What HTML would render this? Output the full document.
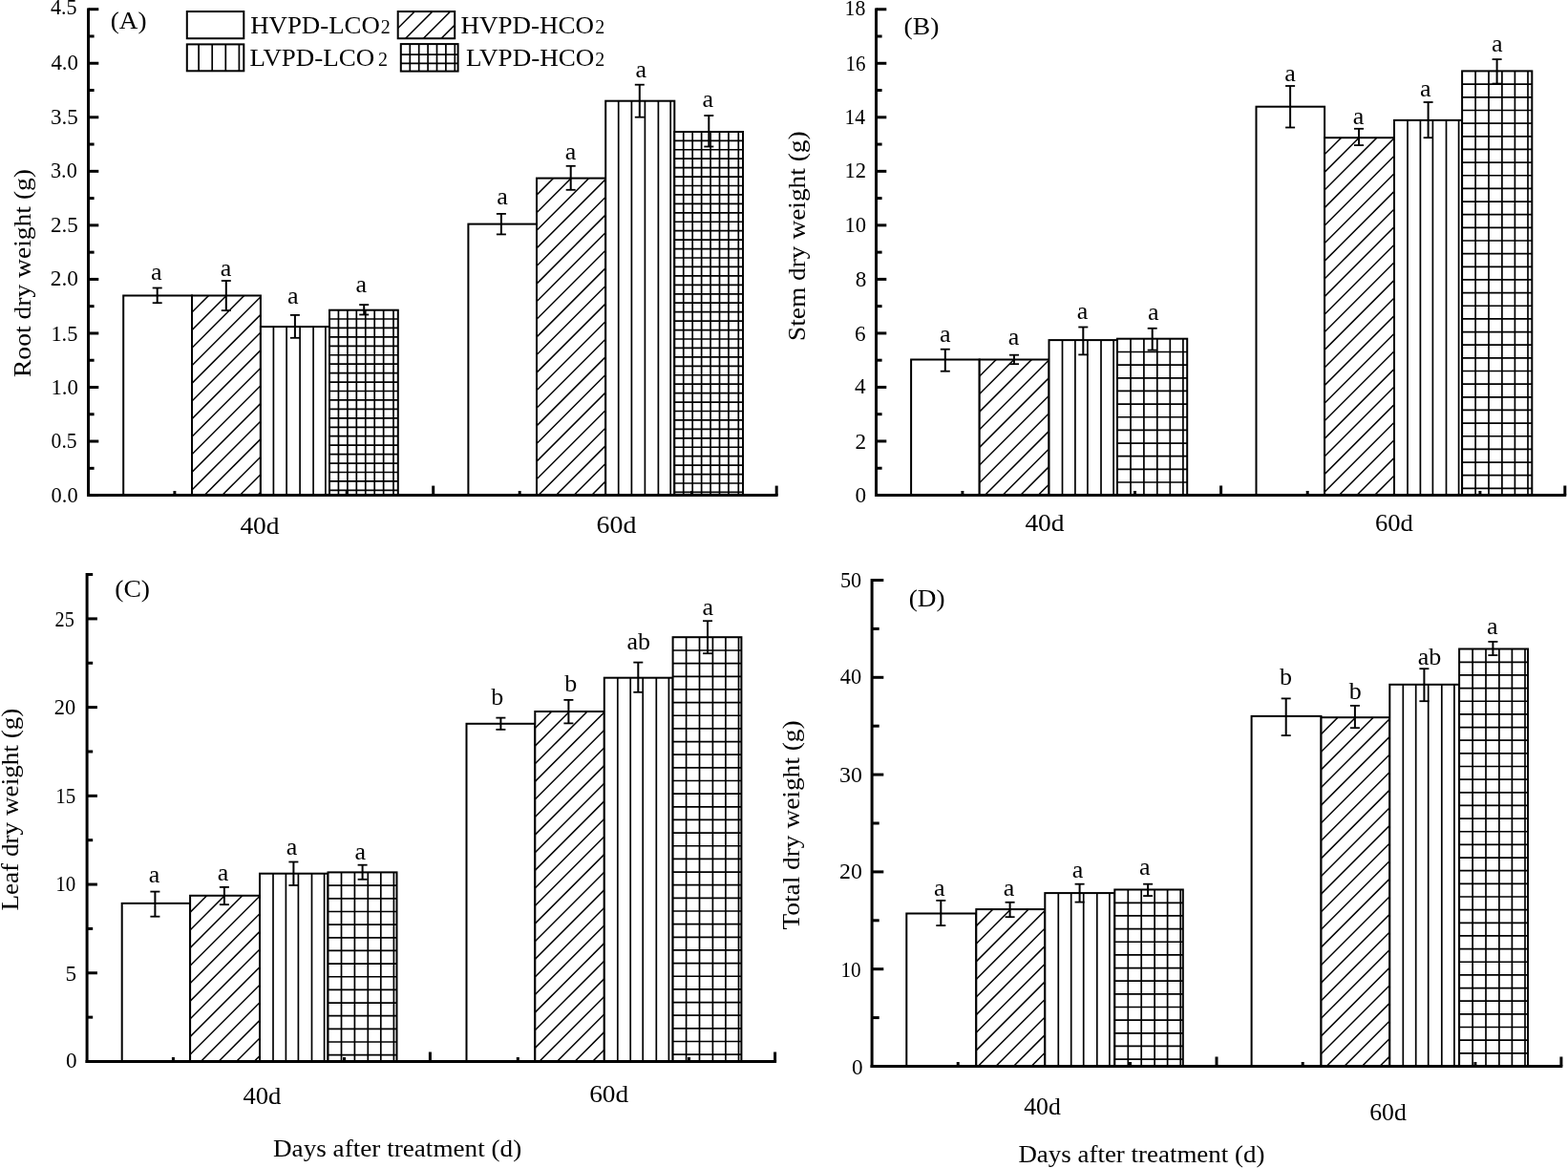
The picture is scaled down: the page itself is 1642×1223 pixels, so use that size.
<!DOCTYPE html>
<html><head><meta charset="utf-8"><title>Dry weight figure</title>
<style>
html,body{margin:0;padding:0;background:#fff;}
body{width:1642px;height:1223px;overflow:hidden;}
svg{display:block;}
text{font-family:'Liberation Serif','Times New Roman',serif;fill:#000;}
</style></head>
<body>
<svg width="1642" height="1223" viewBox="0 0 1642 1223">
<rect width="1642" height="1223" fill="#fff"/>
<rect x="129.2" y="309.5" width="71.8" height="209.1" fill="#fff"/>
<rect x="129.2" y="309.5" width="71.8" height="209.1" fill="none" stroke="#000" stroke-width="2"/>
<rect x="201" y="309.5" width="71.9" height="209.1" fill="#fff"/>
<clipPath id="c1"><rect x="201" y="309.5" width="71.9" height="209.1"/></clipPath>
<g clip-path="url(#c1)" stroke="#000" stroke-width="1.5">
<line x1="7.4" y1="520.6" x2="220.5" y2="307.5"/>
<line x1="26" y1="520.6" x2="239.1" y2="307.5"/>
<line x1="44.6" y1="520.6" x2="257.7" y2="307.5"/>
<line x1="63.2" y1="520.6" x2="276.3" y2="307.5"/>
<line x1="81.8" y1="520.6" x2="294.9" y2="307.5"/>
<line x1="100.4" y1="520.6" x2="313.5" y2="307.5"/>
<line x1="119" y1="520.6" x2="332.1" y2="307.5"/>
<line x1="137.6" y1="520.6" x2="350.7" y2="307.5"/>
<line x1="156.2" y1="520.6" x2="369.3" y2="307.5"/>
<line x1="174.8" y1="520.6" x2="387.9" y2="307.5"/>
<line x1="193.4" y1="520.6" x2="406.5" y2="307.5"/>
<line x1="212" y1="520.6" x2="425.1" y2="307.5"/>
<line x1="230.6" y1="520.6" x2="443.7" y2="307.5"/>
<line x1="249.2" y1="520.6" x2="462.3" y2="307.5"/>
<line x1="267.8" y1="520.6" x2="480.9" y2="307.5"/>
</g>
<rect x="201" y="309.5" width="71.9" height="209.1" fill="none" stroke="#000" stroke-width="2"/>
<rect x="272.9" y="342.1" width="72.1" height="176.5" fill="#fff"/>
<g stroke="#000" stroke-width="1.7">
<line x1="286.4" y1="342.1" x2="286.4" y2="518.6"/>
<line x1="300.1" y1="342.1" x2="300.1" y2="518.6"/>
<line x1="314.1" y1="342.1" x2="314.1" y2="518.6"/>
<line x1="328.1" y1="342.1" x2="328.1" y2="518.6"/>
<line x1="340.9" y1="342.1" x2="340.9" y2="518.6"/>
</g>
<rect x="272.9" y="342.1" width="72.1" height="176.5" fill="none" stroke="#000" stroke-width="2"/>
<rect x="345" y="324.7" width="71.8" height="193.9" fill="#fff"/>
<g stroke="#000" stroke-width="1.7">
<line x1="354.44" y1="324.7" x2="354.44" y2="518.6"/>
<line x1="363.88" y1="324.7" x2="363.88" y2="518.6"/>
<line x1="373.32" y1="324.7" x2="373.32" y2="518.6"/>
<line x1="382.76" y1="324.7" x2="382.76" y2="518.6"/>
<line x1="392.2" y1="324.7" x2="392.2" y2="518.6"/>
<line x1="401.64" y1="324.7" x2="401.64" y2="518.6"/>
<line x1="412" y1="324.7" x2="412" y2="518.6"/>
<line x1="345" y1="334" x2="416.8" y2="334"/>
<line x1="345" y1="343.44" x2="416.8" y2="343.44"/>
<line x1="345" y1="352.88" x2="416.8" y2="352.88"/>
<line x1="345" y1="362.32" x2="416.8" y2="362.32"/>
<line x1="345" y1="371.76" x2="416.8" y2="371.76"/>
<line x1="345" y1="381.2" x2="416.8" y2="381.2"/>
<line x1="345" y1="390.64" x2="416.8" y2="390.64"/>
<line x1="345" y1="400.08" x2="416.8" y2="400.08"/>
<line x1="345" y1="409.52" x2="416.8" y2="409.52"/>
<line x1="345" y1="418.96" x2="416.8" y2="418.96"/>
<line x1="345" y1="428.4" x2="416.8" y2="428.4"/>
<line x1="345" y1="437.84" x2="416.8" y2="437.84"/>
<line x1="345" y1="447.28" x2="416.8" y2="447.28"/>
<line x1="345" y1="456.72" x2="416.8" y2="456.72"/>
<line x1="345" y1="466.16" x2="416.8" y2="466.16"/>
<line x1="345" y1="475.6" x2="416.8" y2="475.6"/>
<line x1="345" y1="485.04" x2="416.8" y2="485.04"/>
<line x1="345" y1="494.48" x2="416.8" y2="494.48"/>
<line x1="345" y1="503.92" x2="416.8" y2="503.92"/>
<line x1="345" y1="513.36" x2="416.8" y2="513.36"/>
</g>
<rect x="345" y="324.7" width="71.8" height="193.9" fill="none" stroke="#000" stroke-width="2"/>
<rect x="490.4" y="234.6" width="71.6" height="284" fill="#fff"/>
<rect x="490.4" y="234.6" width="71.6" height="284" fill="none" stroke="#000" stroke-width="2"/>
<rect x="562" y="186.6" width="72.2" height="332" fill="#fff"/>
<clipPath id="c2"><rect x="562" y="186.6" width="72.2" height="332"/></clipPath>
<g clip-path="url(#c2)" stroke="#000" stroke-width="1.5">
<line x1="245.5" y1="520.6" x2="581.5" y2="184.6"/>
<line x1="264.1" y1="520.6" x2="600.1" y2="184.6"/>
<line x1="282.7" y1="520.6" x2="618.7" y2="184.6"/>
<line x1="301.3" y1="520.6" x2="637.3" y2="184.6"/>
<line x1="319.9" y1="520.6" x2="655.9" y2="184.6"/>
<line x1="338.5" y1="520.6" x2="674.5" y2="184.6"/>
<line x1="357.1" y1="520.6" x2="693.1" y2="184.6"/>
<line x1="375.7" y1="520.6" x2="711.7" y2="184.6"/>
<line x1="394.3" y1="520.6" x2="730.3" y2="184.6"/>
<line x1="412.9" y1="520.6" x2="748.9" y2="184.6"/>
<line x1="431.5" y1="520.6" x2="767.5" y2="184.6"/>
<line x1="450.1" y1="520.6" x2="786.1" y2="184.6"/>
<line x1="468.7" y1="520.6" x2="804.7" y2="184.6"/>
<line x1="487.3" y1="520.6" x2="823.3" y2="184.6"/>
<line x1="505.9" y1="520.6" x2="841.9" y2="184.6"/>
<line x1="524.5" y1="520.6" x2="860.5" y2="184.6"/>
<line x1="543.1" y1="520.6" x2="879.1" y2="184.6"/>
<line x1="561.7" y1="520.6" x2="897.7" y2="184.6"/>
<line x1="580.3" y1="520.6" x2="916.3" y2="184.6"/>
<line x1="598.9" y1="520.6" x2="934.9" y2="184.6"/>
<line x1="617.5" y1="520.6" x2="953.5" y2="184.6"/>
</g>
<rect x="562" y="186.6" width="72.2" height="332" fill="none" stroke="#000" stroke-width="2"/>
<rect x="634.2" y="105.7" width="72.1" height="412.9" fill="#fff"/>
<g stroke="#000" stroke-width="1.7">
<line x1="647.7" y1="105.7" x2="647.7" y2="518.6"/>
<line x1="661.4" y1="105.7" x2="661.4" y2="518.6"/>
<line x1="675.4" y1="105.7" x2="675.4" y2="518.6"/>
<line x1="689.4" y1="105.7" x2="689.4" y2="518.6"/>
<line x1="702.2" y1="105.7" x2="702.2" y2="518.6"/>
</g>
<rect x="634.2" y="105.7" width="72.1" height="412.9" fill="none" stroke="#000" stroke-width="2"/>
<rect x="706.3" y="138" width="71.7" height="380.6" fill="#fff"/>
<g stroke="#000" stroke-width="1.7">
<line x1="715.74" y1="138" x2="715.74" y2="518.6"/>
<line x1="725.18" y1="138" x2="725.18" y2="518.6"/>
<line x1="734.62" y1="138" x2="734.62" y2="518.6"/>
<line x1="744.06" y1="138" x2="744.06" y2="518.6"/>
<line x1="753.5" y1="138" x2="753.5" y2="518.6"/>
<line x1="762.94" y1="138" x2="762.94" y2="518.6"/>
<line x1="773.3" y1="138" x2="773.3" y2="518.6"/>
<line x1="706.3" y1="147.3" x2="778" y2="147.3"/>
<line x1="706.3" y1="156.74" x2="778" y2="156.74"/>
<line x1="706.3" y1="166.18" x2="778" y2="166.18"/>
<line x1="706.3" y1="175.62" x2="778" y2="175.62"/>
<line x1="706.3" y1="185.06" x2="778" y2="185.06"/>
<line x1="706.3" y1="194.5" x2="778" y2="194.5"/>
<line x1="706.3" y1="203.94" x2="778" y2="203.94"/>
<line x1="706.3" y1="213.38" x2="778" y2="213.38"/>
<line x1="706.3" y1="222.82" x2="778" y2="222.82"/>
<line x1="706.3" y1="232.26" x2="778" y2="232.26"/>
<line x1="706.3" y1="241.7" x2="778" y2="241.7"/>
<line x1="706.3" y1="251.14" x2="778" y2="251.14"/>
<line x1="706.3" y1="260.58" x2="778" y2="260.58"/>
<line x1="706.3" y1="270.02" x2="778" y2="270.02"/>
<line x1="706.3" y1="279.46" x2="778" y2="279.46"/>
<line x1="706.3" y1="288.9" x2="778" y2="288.9"/>
<line x1="706.3" y1="298.34" x2="778" y2="298.34"/>
<line x1="706.3" y1="307.78" x2="778" y2="307.78"/>
<line x1="706.3" y1="317.22" x2="778" y2="317.22"/>
<line x1="706.3" y1="326.66" x2="778" y2="326.66"/>
<line x1="706.3" y1="336.1" x2="778" y2="336.1"/>
<line x1="706.3" y1="345.54" x2="778" y2="345.54"/>
<line x1="706.3" y1="354.98" x2="778" y2="354.98"/>
<line x1="706.3" y1="364.42" x2="778" y2="364.42"/>
<line x1="706.3" y1="373.86" x2="778" y2="373.86"/>
<line x1="706.3" y1="383.3" x2="778" y2="383.3"/>
<line x1="706.3" y1="392.74" x2="778" y2="392.74"/>
<line x1="706.3" y1="402.18" x2="778" y2="402.18"/>
<line x1="706.3" y1="411.62" x2="778" y2="411.62"/>
<line x1="706.3" y1="421.06" x2="778" y2="421.06"/>
<line x1="706.3" y1="430.5" x2="778" y2="430.5"/>
<line x1="706.3" y1="439.94" x2="778" y2="439.94"/>
<line x1="706.3" y1="449.38" x2="778" y2="449.38"/>
<line x1="706.3" y1="458.82" x2="778" y2="458.82"/>
<line x1="706.3" y1="468.26" x2="778" y2="468.26"/>
<line x1="706.3" y1="477.7" x2="778" y2="477.7"/>
<line x1="706.3" y1="487.14" x2="778" y2="487.14"/>
<line x1="706.3" y1="496.58" x2="778" y2="496.58"/>
<line x1="706.3" y1="506.02" x2="778" y2="506.02"/>
<line x1="706.3" y1="515.46" x2="778" y2="515.46"/>
</g>
<rect x="706.3" y="138" width="71.7" height="380.6" fill="none" stroke="#000" stroke-width="2"/>
<g stroke="#000" stroke-width="1.8"><line x1="164.7" y1="301.5" x2="164.7" y2="317.2" stroke-width="2.0"/><line x1="159.7" y1="301.5" x2="169.7" y2="301.5"/><line x1="159.7" y1="317.2" x2="169.7" y2="317.2"/></g>
<g stroke="#000" stroke-width="1.8"><line x1="236.8" y1="294" x2="236.8" y2="325.1" stroke-width="2.0"/><line x1="231.8" y1="294" x2="241.8" y2="294"/><line x1="231.8" y1="325.1" x2="241.8" y2="325.1"/></g>
<g stroke="#000" stroke-width="1.8"><line x1="308.9" y1="329.9" x2="308.9" y2="353.8" stroke-width="2.0"/><line x1="303.9" y1="329.9" x2="313.9" y2="329.9"/><line x1="303.9" y1="353.8" x2="313.9" y2="353.8"/></g>
<g stroke="#000" stroke-width="1.8"><line x1="381.2" y1="319.1" x2="381.2" y2="329.5" stroke-width="2.0"/><line x1="376.2" y1="319.1" x2="386.2" y2="319.1"/><line x1="376.2" y1="329.5" x2="386.2" y2="329.5"/></g>
<g stroke="#000" stroke-width="1.8"><line x1="524.9" y1="223.9" x2="524.9" y2="245.4" stroke-width="2.0"/><line x1="519.9" y1="223.9" x2="529.9" y2="223.9"/><line x1="519.9" y1="245.4" x2="529.9" y2="245.4"/></g>
<g stroke="#000" stroke-width="1.8"><line x1="597.7" y1="173.8" x2="597.7" y2="198.8" stroke-width="2.0"/><line x1="592.7" y1="173.8" x2="602.7" y2="173.8"/><line x1="592.7" y1="198.8" x2="602.7" y2="198.8"/></g>
<g stroke="#000" stroke-width="1.8"><line x1="669.8" y1="88.7" x2="669.8" y2="122.7" stroke-width="2.0"/><line x1="664.8" y1="88.7" x2="674.8" y2="88.7"/><line x1="664.8" y1="122.7" x2="674.8" y2="122.7"/></g>
<g stroke="#000" stroke-width="1.8"><line x1="742.3" y1="121" x2="742.3" y2="153.5" stroke-width="2.0"/><line x1="737.3" y1="121" x2="747.3" y2="121"/><line x1="737.3" y1="153.5" x2="747.3" y2="153.5"/></g>
<line x1="92.5" y1="8.4" x2="92.5" y2="520.1" stroke="#000" stroke-width="3"/>
<line x1="91" y1="518.6" x2="814.6" y2="518.6" stroke="#000" stroke-width="3"/>
<line x1="92.5" y1="518.6" x2="103.3" y2="518.6" stroke="#000" stroke-width="3"/>
<line x1="92.5" y1="490.33" x2="98.6" y2="490.33" stroke="#000" stroke-width="3"/>
<line x1="92.5" y1="462.06" x2="103.3" y2="462.06" stroke="#000" stroke-width="3"/>
<line x1="92.5" y1="433.78" x2="98.6" y2="433.78" stroke="#000" stroke-width="3"/>
<line x1="92.5" y1="405.51" x2="103.3" y2="405.51" stroke="#000" stroke-width="3"/>
<line x1="92.5" y1="377.24" x2="98.6" y2="377.24" stroke="#000" stroke-width="3"/>
<line x1="92.5" y1="348.97" x2="103.3" y2="348.97" stroke="#000" stroke-width="3"/>
<line x1="92.5" y1="320.69" x2="98.6" y2="320.69" stroke="#000" stroke-width="3"/>
<line x1="92.5" y1="292.42" x2="103.3" y2="292.42" stroke="#000" stroke-width="3"/>
<line x1="92.5" y1="264.15" x2="98.6" y2="264.15" stroke="#000" stroke-width="3"/>
<line x1="92.5" y1="235.88" x2="103.3" y2="235.88" stroke="#000" stroke-width="3"/>
<line x1="92.5" y1="207.61" x2="98.6" y2="207.61" stroke="#000" stroke-width="3"/>
<line x1="92.5" y1="179.33" x2="103.3" y2="179.33" stroke="#000" stroke-width="3"/>
<line x1="92.5" y1="151.06" x2="98.6" y2="151.06" stroke="#000" stroke-width="3"/>
<line x1="92.5" y1="122.79" x2="103.3" y2="122.79" stroke="#000" stroke-width="3"/>
<line x1="92.5" y1="94.52" x2="98.6" y2="94.52" stroke="#000" stroke-width="3"/>
<line x1="92.5" y1="66.24" x2="103.3" y2="66.24" stroke="#000" stroke-width="3"/>
<line x1="92.5" y1="37.97" x2="98.6" y2="37.97" stroke="#000" stroke-width="3"/>
<line x1="92.5" y1="9.7" x2="103.3" y2="9.7" stroke="#000" stroke-width="3"/>
<line x1="182.9" y1="518.6" x2="182.9" y2="514.1" stroke="#000" stroke-width="3"/>
<line x1="363.2" y1="518.6" x2="363.2" y2="514.1" stroke="#000" stroke-width="3"/>
<line x1="453.7" y1="518.6" x2="453.7" y2="508.6" stroke="#000" stroke-width="3"/>
<line x1="544.2" y1="518.6" x2="544.2" y2="514.1" stroke="#000" stroke-width="3"/>
<line x1="724.5" y1="518.6" x2="724.5" y2="514.1" stroke="#000" stroke-width="3"/>
<line x1="813.2" y1="518.6" x2="813.2" y2="508.6" stroke="#000" stroke-width="3"/>
<rect x="954.1" y="376.5" width="71.6" height="142" fill="#fff"/>
<rect x="954.1" y="376.5" width="71.6" height="142" fill="none" stroke="#000" stroke-width="2"/>
<rect x="1025.7" y="376.5" width="72.8" height="142" fill="#fff"/>
<clipPath id="c3"><rect x="1025.7" y="376.5" width="72.8" height="142"/></clipPath>
<g clip-path="url(#c3)" stroke="#000" stroke-width="1.5">
<line x1="899.2" y1="520.5" x2="1045.2" y2="374.5"/>
<line x1="917.8" y1="520.5" x2="1063.8" y2="374.5"/>
<line x1="936.4" y1="520.5" x2="1082.4" y2="374.5"/>
<line x1="955" y1="520.5" x2="1101" y2="374.5"/>
<line x1="973.6" y1="520.5" x2="1119.6" y2="374.5"/>
<line x1="992.2" y1="520.5" x2="1138.2" y2="374.5"/>
<line x1="1010.8" y1="520.5" x2="1156.8" y2="374.5"/>
<line x1="1029.4" y1="520.5" x2="1175.4" y2="374.5"/>
<line x1="1048" y1="520.5" x2="1194" y2="374.5"/>
<line x1="1066.6" y1="520.5" x2="1212.6" y2="374.5"/>
<line x1="1085.2" y1="520.5" x2="1231.2" y2="374.5"/>
</g>
<rect x="1025.7" y="376.5" width="72.8" height="142" fill="none" stroke="#000" stroke-width="2"/>
<rect x="1098.5" y="356.1" width="71.5" height="162.4" fill="#fff"/>
<g stroke="#000" stroke-width="1.7">
<line x1="1112.5" y1="356.1" x2="1112.5" y2="518.5"/>
<line x1="1125.9" y1="356.1" x2="1125.9" y2="518.5"/>
<line x1="1138.9" y1="356.1" x2="1138.9" y2="518.5"/>
<line x1="1153" y1="356.1" x2="1153" y2="518.5"/>
<line x1="1166.1" y1="356.1" x2="1166.1" y2="518.5"/>
</g>
<rect x="1098.5" y="356.1" width="71.5" height="162.4" fill="none" stroke="#000" stroke-width="2"/>
<rect x="1170" y="354.7" width="73.2" height="163.8" fill="#fff"/>
<g stroke="#000" stroke-width="1.7">
<line x1="1184" y1="354.7" x2="1184" y2="518.5"/>
<line x1="1197.9" y1="354.7" x2="1197.9" y2="518.5"/>
<line x1="1211.8" y1="354.7" x2="1211.8" y2="518.5"/>
<line x1="1225.3" y1="354.7" x2="1225.3" y2="518.5"/>
<line x1="1238.9" y1="354.7" x2="1238.9" y2="518.5"/>
<line x1="1170" y1="368.5" x2="1243.2" y2="368.5"/>
<line x1="1170" y1="382.15" x2="1243.2" y2="382.15"/>
<line x1="1170" y1="395.8" x2="1243.2" y2="395.8"/>
<line x1="1170" y1="409.45" x2="1243.2" y2="409.45"/>
<line x1="1170" y1="423.1" x2="1243.2" y2="423.1"/>
<line x1="1170" y1="436.75" x2="1243.2" y2="436.75"/>
<line x1="1170" y1="450.4" x2="1243.2" y2="450.4"/>
<line x1="1170" y1="464.05" x2="1243.2" y2="464.05"/>
<line x1="1170" y1="477.7" x2="1243.2" y2="477.7"/>
<line x1="1170" y1="491.35" x2="1243.2" y2="491.35"/>
<line x1="1170" y1="505" x2="1243.2" y2="505"/>
</g>
<rect x="1170" y="354.7" width="73.2" height="163.8" fill="none" stroke="#000" stroke-width="2"/>
<rect x="1315.5" y="111.7" width="71.6" height="406.8" fill="#fff"/>
<rect x="1315.5" y="111.7" width="71.6" height="406.8" fill="none" stroke="#000" stroke-width="2"/>
<rect x="1387.1" y="144.2" width="72.9" height="374.3" fill="#fff"/>
<clipPath id="c4"><rect x="1387.1" y="144.2" width="72.9" height="374.3"/></clipPath>
<g clip-path="url(#c4)" stroke="#000" stroke-width="1.5">
<line x1="1028.3" y1="520.5" x2="1406.6" y2="142.2"/>
<line x1="1046.9" y1="520.5" x2="1425.2" y2="142.2"/>
<line x1="1065.5" y1="520.5" x2="1443.8" y2="142.2"/>
<line x1="1084.1" y1="520.5" x2="1462.4" y2="142.2"/>
<line x1="1102.7" y1="520.5" x2="1481" y2="142.2"/>
<line x1="1121.3" y1="520.5" x2="1499.6" y2="142.2"/>
<line x1="1139.9" y1="520.5" x2="1518.2" y2="142.2"/>
<line x1="1158.5" y1="520.5" x2="1536.8" y2="142.2"/>
<line x1="1177.1" y1="520.5" x2="1555.4" y2="142.2"/>
<line x1="1195.7" y1="520.5" x2="1574" y2="142.2"/>
<line x1="1214.3" y1="520.5" x2="1592.6" y2="142.2"/>
<line x1="1232.9" y1="520.5" x2="1611.2" y2="142.2"/>
<line x1="1251.5" y1="520.5" x2="1629.8" y2="142.2"/>
<line x1="1270.1" y1="520.5" x2="1648.4" y2="142.2"/>
<line x1="1288.7" y1="520.5" x2="1667" y2="142.2"/>
<line x1="1307.3" y1="520.5" x2="1685.6" y2="142.2"/>
<line x1="1325.9" y1="520.5" x2="1704.2" y2="142.2"/>
<line x1="1344.5" y1="520.5" x2="1722.8" y2="142.2"/>
<line x1="1363.1" y1="520.5" x2="1741.4" y2="142.2"/>
<line x1="1381.7" y1="520.5" x2="1760" y2="142.2"/>
<line x1="1400.3" y1="520.5" x2="1778.6" y2="142.2"/>
<line x1="1418.9" y1="520.5" x2="1797.2" y2="142.2"/>
<line x1="1437.5" y1="520.5" x2="1815.8" y2="142.2"/>
<line x1="1456.1" y1="520.5" x2="1834.4" y2="142.2"/>
</g>
<rect x="1387.1" y="144.2" width="72.9" height="374.3" fill="none" stroke="#000" stroke-width="2"/>
<rect x="1460" y="125.9" width="71.1" height="392.6" fill="#fff"/>
<g stroke="#000" stroke-width="1.7">
<line x1="1474" y1="125.9" x2="1474" y2="518.5"/>
<line x1="1487.4" y1="125.9" x2="1487.4" y2="518.5"/>
<line x1="1500.4" y1="125.9" x2="1500.4" y2="518.5"/>
<line x1="1514.5" y1="125.9" x2="1514.5" y2="518.5"/>
<line x1="1527.6" y1="125.9" x2="1527.6" y2="518.5"/>
</g>
<rect x="1460" y="125.9" width="71.1" height="392.6" fill="none" stroke="#000" stroke-width="2"/>
<rect x="1531.1" y="74.4" width="73.2" height="444.1" fill="#fff"/>
<g stroke="#000" stroke-width="1.7">
<line x1="1545.1" y1="74.4" x2="1545.1" y2="518.5"/>
<line x1="1559" y1="74.4" x2="1559" y2="518.5"/>
<line x1="1572.9" y1="74.4" x2="1572.9" y2="518.5"/>
<line x1="1586.4" y1="74.4" x2="1586.4" y2="518.5"/>
<line x1="1600" y1="74.4" x2="1600" y2="518.5"/>
<line x1="1531.1" y1="88.2" x2="1604.3" y2="88.2"/>
<line x1="1531.1" y1="101.85" x2="1604.3" y2="101.85"/>
<line x1="1531.1" y1="115.5" x2="1604.3" y2="115.5"/>
<line x1="1531.1" y1="129.15" x2="1604.3" y2="129.15"/>
<line x1="1531.1" y1="142.8" x2="1604.3" y2="142.8"/>
<line x1="1531.1" y1="156.45" x2="1604.3" y2="156.45"/>
<line x1="1531.1" y1="170.1" x2="1604.3" y2="170.1"/>
<line x1="1531.1" y1="183.75" x2="1604.3" y2="183.75"/>
<line x1="1531.1" y1="197.4" x2="1604.3" y2="197.4"/>
<line x1="1531.1" y1="211.05" x2="1604.3" y2="211.05"/>
<line x1="1531.1" y1="224.7" x2="1604.3" y2="224.7"/>
<line x1="1531.1" y1="238.35" x2="1604.3" y2="238.35"/>
<line x1="1531.1" y1="252" x2="1604.3" y2="252"/>
<line x1="1531.1" y1="265.65" x2="1604.3" y2="265.65"/>
<line x1="1531.1" y1="279.3" x2="1604.3" y2="279.3"/>
<line x1="1531.1" y1="292.95" x2="1604.3" y2="292.95"/>
<line x1="1531.1" y1="306.6" x2="1604.3" y2="306.6"/>
<line x1="1531.1" y1="320.25" x2="1604.3" y2="320.25"/>
<line x1="1531.1" y1="333.9" x2="1604.3" y2="333.9"/>
<line x1="1531.1" y1="347.55" x2="1604.3" y2="347.55"/>
<line x1="1531.1" y1="361.2" x2="1604.3" y2="361.2"/>
<line x1="1531.1" y1="374.85" x2="1604.3" y2="374.85"/>
<line x1="1531.1" y1="388.5" x2="1604.3" y2="388.5"/>
<line x1="1531.1" y1="402.15" x2="1604.3" y2="402.15"/>
<line x1="1531.1" y1="415.8" x2="1604.3" y2="415.8"/>
<line x1="1531.1" y1="429.45" x2="1604.3" y2="429.45"/>
<line x1="1531.1" y1="443.1" x2="1604.3" y2="443.1"/>
<line x1="1531.1" y1="456.75" x2="1604.3" y2="456.75"/>
<line x1="1531.1" y1="470.4" x2="1604.3" y2="470.4"/>
<line x1="1531.1" y1="484.05" x2="1604.3" y2="484.05"/>
<line x1="1531.1" y1="497.7" x2="1604.3" y2="497.7"/>
<line x1="1531.1" y1="511.35" x2="1604.3" y2="511.35"/>
</g>
<rect x="1531.1" y="74.4" width="73.2" height="444.1" fill="none" stroke="#000" stroke-width="2"/>
<g stroke="#000" stroke-width="1.8"><line x1="989.8" y1="365.7" x2="989.8" y2="388.7" stroke-width="2.0"/><line x1="984.8" y1="365.7" x2="994.8" y2="365.7"/><line x1="984.8" y1="388.7" x2="994.8" y2="388.7"/></g>
<g stroke="#000" stroke-width="1.8"><line x1="1062" y1="371.7" x2="1062" y2="381.2" stroke-width="2.0"/><line x1="1057" y1="371.7" x2="1067" y2="371.7"/><line x1="1057" y1="381.2" x2="1067" y2="381.2"/></g>
<g stroke="#000" stroke-width="1.8"><line x1="1134.3" y1="342.5" x2="1134.3" y2="371.4" stroke-width="2.0"/><line x1="1129.3" y1="342.5" x2="1139.3" y2="342.5"/><line x1="1129.3" y1="371.4" x2="1139.3" y2="371.4"/></g>
<g stroke="#000" stroke-width="1.8"><line x1="1206.7" y1="343.8" x2="1206.7" y2="366.6" stroke-width="2.0"/><line x1="1201.7" y1="343.8" x2="1211.7" y2="343.8"/><line x1="1201.7" y1="366.6" x2="1211.7" y2="366.6"/></g>
<g stroke="#000" stroke-width="1.8"><line x1="1351.1" y1="90" x2="1351.1" y2="133.5" stroke-width="2.0"/><line x1="1346.1" y1="90" x2="1356.1" y2="90"/><line x1="1346.1" y1="133.5" x2="1356.1" y2="133.5"/></g>
<g stroke="#000" stroke-width="1.8"><line x1="1423" y1="134.8" x2="1423" y2="152.1" stroke-width="2.0"/><line x1="1418" y1="134.8" x2="1428" y2="134.8"/><line x1="1418" y1="152.1" x2="1428" y2="152.1"/></g>
<g stroke="#000" stroke-width="1.8"><line x1="1495.6" y1="107" x2="1495.6" y2="144.2" stroke-width="2.0"/><line x1="1490.6" y1="107" x2="1500.6" y2="107"/><line x1="1490.6" y1="144.2" x2="1500.6" y2="144.2"/></g>
<g stroke="#000" stroke-width="1.8"><line x1="1567.6" y1="62.1" x2="1567.6" y2="87.6" stroke-width="2.0"/><line x1="1562.6" y1="62.1" x2="1572.6" y2="62.1"/><line x1="1562.6" y1="87.6" x2="1572.6" y2="87.6"/></g>
<line x1="917.5" y1="8.4" x2="917.5" y2="520" stroke="#000" stroke-width="3"/>
<line x1="916" y1="518.5" x2="1640.2" y2="518.5" stroke="#000" stroke-width="3"/>
<line x1="917.5" y1="518.5" x2="928.3" y2="518.5" stroke="#000" stroke-width="3"/>
<line x1="917.5" y1="490.24" x2="923.6" y2="490.24" stroke="#000" stroke-width="3"/>
<line x1="917.5" y1="461.97" x2="928.3" y2="461.97" stroke="#000" stroke-width="3"/>
<line x1="917.5" y1="433.71" x2="923.6" y2="433.71" stroke="#000" stroke-width="3"/>
<line x1="917.5" y1="405.44" x2="928.3" y2="405.44" stroke="#000" stroke-width="3"/>
<line x1="917.5" y1="377.18" x2="923.6" y2="377.18" stroke="#000" stroke-width="3"/>
<line x1="917.5" y1="348.92" x2="928.3" y2="348.92" stroke="#000" stroke-width="3"/>
<line x1="917.5" y1="320.65" x2="923.6" y2="320.65" stroke="#000" stroke-width="3"/>
<line x1="917.5" y1="292.39" x2="928.3" y2="292.39" stroke="#000" stroke-width="3"/>
<line x1="917.5" y1="264.12" x2="923.6" y2="264.12" stroke="#000" stroke-width="3"/>
<line x1="917.5" y1="235.86" x2="928.3" y2="235.86" stroke="#000" stroke-width="3"/>
<line x1="917.5" y1="207.6" x2="923.6" y2="207.6" stroke="#000" stroke-width="3"/>
<line x1="917.5" y1="179.33" x2="928.3" y2="179.33" stroke="#000" stroke-width="3"/>
<line x1="917.5" y1="151.07" x2="923.6" y2="151.07" stroke="#000" stroke-width="3"/>
<line x1="917.5" y1="122.81" x2="928.3" y2="122.81" stroke="#000" stroke-width="3"/>
<line x1="917.5" y1="94.54" x2="923.6" y2="94.54" stroke="#000" stroke-width="3"/>
<line x1="917.5" y1="66.28" x2="928.3" y2="66.28" stroke="#000" stroke-width="3"/>
<line x1="917.5" y1="38.01" x2="923.6" y2="38.01" stroke="#000" stroke-width="3"/>
<line x1="917.5" y1="9.75" x2="928.3" y2="9.75" stroke="#000" stroke-width="3"/>
<line x1="1007.9" y1="518.5" x2="1007.9" y2="514" stroke="#000" stroke-width="3"/>
<line x1="1188.5" y1="518.5" x2="1188.5" y2="514" stroke="#000" stroke-width="3"/>
<line x1="1278.6" y1="518.5" x2="1278.6" y2="508.5" stroke="#000" stroke-width="3"/>
<line x1="1369.2" y1="518.5" x2="1369.2" y2="514" stroke="#000" stroke-width="3"/>
<line x1="1549.9" y1="518.5" x2="1549.9" y2="514" stroke="#000" stroke-width="3"/>
<line x1="1638.8" y1="518.5" x2="1638.8" y2="508.5" stroke="#000" stroke-width="3"/>
<rect x="127.7" y="945.9" width="71.4" height="165.6" fill="#fff"/>
<rect x="127.7" y="945.9" width="71.4" height="165.6" fill="none" stroke="#000" stroke-width="2"/>
<rect x="199.1" y="937.8" width="72.9" height="173.7" fill="#fff"/>
<clipPath id="c5"><rect x="199.1" y="937.8" width="72.9" height="173.7"/></clipPath>
<g clip-path="url(#c5)" stroke="#000" stroke-width="1.5">
<line x1="40.9" y1="1113.5" x2="218.6" y2="935.8"/>
<line x1="59.5" y1="1113.5" x2="237.2" y2="935.8"/>
<line x1="78.1" y1="1113.5" x2="255.8" y2="935.8"/>
<line x1="96.7" y1="1113.5" x2="274.4" y2="935.8"/>
<line x1="115.3" y1="1113.5" x2="293" y2="935.8"/>
<line x1="133.9" y1="1113.5" x2="311.6" y2="935.8"/>
<line x1="152.5" y1="1113.5" x2="330.2" y2="935.8"/>
<line x1="171.1" y1="1113.5" x2="348.8" y2="935.8"/>
<line x1="189.7" y1="1113.5" x2="367.4" y2="935.8"/>
<line x1="208.3" y1="1113.5" x2="386" y2="935.8"/>
<line x1="226.9" y1="1113.5" x2="404.6" y2="935.8"/>
<line x1="245.5" y1="1113.5" x2="423.2" y2="935.8"/>
<line x1="264.1" y1="1113.5" x2="441.8" y2="935.8"/>
</g>
<rect x="199.1" y="937.8" width="72.9" height="173.7" fill="none" stroke="#000" stroke-width="2"/>
<rect x="272" y="914.7" width="71.5" height="196.8" fill="#fff"/>
<g stroke="#000" stroke-width="1.7">
<line x1="286" y1="914.7" x2="286" y2="1111.5"/>
<line x1="299.4" y1="914.7" x2="299.4" y2="1111.5"/>
<line x1="312.4" y1="914.7" x2="312.4" y2="1111.5"/>
<line x1="326.5" y1="914.7" x2="326.5" y2="1111.5"/>
<line x1="339.6" y1="914.7" x2="339.6" y2="1111.5"/>
</g>
<rect x="272" y="914.7" width="71.5" height="196.8" fill="none" stroke="#000" stroke-width="2"/>
<rect x="343.5" y="913.4" width="72" height="198.1" fill="#fff"/>
<g stroke="#000" stroke-width="1.7">
<line x1="357.5" y1="913.4" x2="357.5" y2="1111.5"/>
<line x1="371.4" y1="913.4" x2="371.4" y2="1111.5"/>
<line x1="385.3" y1="913.4" x2="385.3" y2="1111.5"/>
<line x1="398.8" y1="913.4" x2="398.8" y2="1111.5"/>
<line x1="412.4" y1="913.4" x2="412.4" y2="1111.5"/>
<line x1="343.5" y1="927.2" x2="415.5" y2="927.2"/>
<line x1="343.5" y1="940.85" x2="415.5" y2="940.85"/>
<line x1="343.5" y1="954.5" x2="415.5" y2="954.5"/>
<line x1="343.5" y1="968.15" x2="415.5" y2="968.15"/>
<line x1="343.5" y1="981.8" x2="415.5" y2="981.8"/>
<line x1="343.5" y1="995.45" x2="415.5" y2="995.45"/>
<line x1="343.5" y1="1009.1" x2="415.5" y2="1009.1"/>
<line x1="343.5" y1="1022.75" x2="415.5" y2="1022.75"/>
<line x1="343.5" y1="1036.4" x2="415.5" y2="1036.4"/>
<line x1="343.5" y1="1050.05" x2="415.5" y2="1050.05"/>
<line x1="343.5" y1="1063.7" x2="415.5" y2="1063.7"/>
<line x1="343.5" y1="1077.35" x2="415.5" y2="1077.35"/>
<line x1="343.5" y1="1091" x2="415.5" y2="1091"/>
<line x1="343.5" y1="1104.65" x2="415.5" y2="1104.65"/>
</g>
<rect x="343.5" y="913.4" width="72" height="198.1" fill="none" stroke="#000" stroke-width="2"/>
<rect x="488.5" y="757.8" width="71.8" height="353.7" fill="#fff"/>
<rect x="488.5" y="757.8" width="71.8" height="353.7" fill="none" stroke="#000" stroke-width="2"/>
<rect x="560.3" y="745" width="72.5" height="366.5" fill="#fff"/>
<clipPath id="c6"><rect x="560.3" y="745" width="72.5" height="366.5"/></clipPath>
<g clip-path="url(#c6)" stroke="#000" stroke-width="1.5">
<line x1="209.3" y1="1113.5" x2="579.8" y2="743"/>
<line x1="227.9" y1="1113.5" x2="598.4" y2="743"/>
<line x1="246.5" y1="1113.5" x2="617" y2="743"/>
<line x1="265.1" y1="1113.5" x2="635.6" y2="743"/>
<line x1="283.7" y1="1113.5" x2="654.2" y2="743"/>
<line x1="302.3" y1="1113.5" x2="672.8" y2="743"/>
<line x1="320.9" y1="1113.5" x2="691.4" y2="743"/>
<line x1="339.5" y1="1113.5" x2="710" y2="743"/>
<line x1="358.1" y1="1113.5" x2="728.6" y2="743"/>
<line x1="376.7" y1="1113.5" x2="747.2" y2="743"/>
<line x1="395.3" y1="1113.5" x2="765.8" y2="743"/>
<line x1="413.9" y1="1113.5" x2="784.4" y2="743"/>
<line x1="432.5" y1="1113.5" x2="803" y2="743"/>
<line x1="451.1" y1="1113.5" x2="821.6" y2="743"/>
<line x1="469.7" y1="1113.5" x2="840.2" y2="743"/>
<line x1="488.3" y1="1113.5" x2="858.8" y2="743"/>
<line x1="506.9" y1="1113.5" x2="877.4" y2="743"/>
<line x1="525.5" y1="1113.5" x2="896" y2="743"/>
<line x1="544.1" y1="1113.5" x2="914.6" y2="743"/>
<line x1="562.7" y1="1113.5" x2="933.2" y2="743"/>
<line x1="581.3" y1="1113.5" x2="951.8" y2="743"/>
<line x1="599.9" y1="1113.5" x2="970.4" y2="743"/>
<line x1="618.5" y1="1113.5" x2="989" y2="743"/>
</g>
<rect x="560.3" y="745" width="72.5" height="366.5" fill="none" stroke="#000" stroke-width="2"/>
<rect x="632.8" y="709.7" width="71.8" height="401.8" fill="#fff"/>
<g stroke="#000" stroke-width="1.7">
<line x1="646.8" y1="709.7" x2="646.8" y2="1111.5"/>
<line x1="660.2" y1="709.7" x2="660.2" y2="1111.5"/>
<line x1="673.2" y1="709.7" x2="673.2" y2="1111.5"/>
<line x1="687.3" y1="709.7" x2="687.3" y2="1111.5"/>
<line x1="700.4" y1="709.7" x2="700.4" y2="1111.5"/>
</g>
<rect x="632.8" y="709.7" width="71.8" height="401.8" fill="none" stroke="#000" stroke-width="2"/>
<rect x="704.6" y="667.2" width="71.8" height="444.3" fill="#fff"/>
<g stroke="#000" stroke-width="1.7">
<line x1="718.6" y1="667.2" x2="718.6" y2="1111.5"/>
<line x1="732.5" y1="667.2" x2="732.5" y2="1111.5"/>
<line x1="746.4" y1="667.2" x2="746.4" y2="1111.5"/>
<line x1="759.9" y1="667.2" x2="759.9" y2="1111.5"/>
<line x1="773.5" y1="667.2" x2="773.5" y2="1111.5"/>
<line x1="704.6" y1="681" x2="776.4" y2="681"/>
<line x1="704.6" y1="694.65" x2="776.4" y2="694.65"/>
<line x1="704.6" y1="708.3" x2="776.4" y2="708.3"/>
<line x1="704.6" y1="721.95" x2="776.4" y2="721.95"/>
<line x1="704.6" y1="735.6" x2="776.4" y2="735.6"/>
<line x1="704.6" y1="749.25" x2="776.4" y2="749.25"/>
<line x1="704.6" y1="762.9" x2="776.4" y2="762.9"/>
<line x1="704.6" y1="776.55" x2="776.4" y2="776.55"/>
<line x1="704.6" y1="790.2" x2="776.4" y2="790.2"/>
<line x1="704.6" y1="803.85" x2="776.4" y2="803.85"/>
<line x1="704.6" y1="817.5" x2="776.4" y2="817.5"/>
<line x1="704.6" y1="831.15" x2="776.4" y2="831.15"/>
<line x1="704.6" y1="844.8" x2="776.4" y2="844.8"/>
<line x1="704.6" y1="858.45" x2="776.4" y2="858.45"/>
<line x1="704.6" y1="872.1" x2="776.4" y2="872.1"/>
<line x1="704.6" y1="885.75" x2="776.4" y2="885.75"/>
<line x1="704.6" y1="899.4" x2="776.4" y2="899.4"/>
<line x1="704.6" y1="913.05" x2="776.4" y2="913.05"/>
<line x1="704.6" y1="926.7" x2="776.4" y2="926.7"/>
<line x1="704.6" y1="940.35" x2="776.4" y2="940.35"/>
<line x1="704.6" y1="954" x2="776.4" y2="954"/>
<line x1="704.6" y1="967.65" x2="776.4" y2="967.65"/>
<line x1="704.6" y1="981.3" x2="776.4" y2="981.3"/>
<line x1="704.6" y1="994.95" x2="776.4" y2="994.95"/>
<line x1="704.6" y1="1008.6" x2="776.4" y2="1008.6"/>
<line x1="704.6" y1="1022.25" x2="776.4" y2="1022.25"/>
<line x1="704.6" y1="1035.9" x2="776.4" y2="1035.9"/>
<line x1="704.6" y1="1049.55" x2="776.4" y2="1049.55"/>
<line x1="704.6" y1="1063.2" x2="776.4" y2="1063.2"/>
<line x1="704.6" y1="1076.85" x2="776.4" y2="1076.85"/>
<line x1="704.6" y1="1090.5" x2="776.4" y2="1090.5"/>
<line x1="704.6" y1="1104.15" x2="776.4" y2="1104.15"/>
</g>
<rect x="704.6" y="667.2" width="71.8" height="444.3" fill="none" stroke="#000" stroke-width="2"/>
<g stroke="#000" stroke-width="1.8"><line x1="162.4" y1="933.6" x2="162.4" y2="959.7" stroke-width="2.0"/><line x1="157.4" y1="933.6" x2="167.4" y2="933.6"/><line x1="157.4" y1="959.7" x2="167.4" y2="959.7"/></g>
<g stroke="#000" stroke-width="1.8"><line x1="234.9" y1="928.9" x2="234.9" y2="947.2" stroke-width="2.0"/><line x1="229.9" y1="928.9" x2="239.9" y2="928.9"/><line x1="229.9" y1="947.2" x2="239.9" y2="947.2"/></g>
<g stroke="#000" stroke-width="1.8"><line x1="307.4" y1="902.5" x2="307.4" y2="927" stroke-width="2.0"/><line x1="302.4" y1="902.5" x2="312.4" y2="902.5"/><line x1="302.4" y1="927" x2="312.4" y2="927"/></g>
<g stroke="#000" stroke-width="1.8"><line x1="379.6" y1="905.7" x2="379.6" y2="920.8" stroke-width="2.0"/><line x1="374.6" y1="905.7" x2="384.6" y2="905.7"/><line x1="374.6" y1="920.8" x2="384.6" y2="920.8"/></g>
<g stroke="#000" stroke-width="1.8"><line x1="524.4" y1="751.6" x2="524.4" y2="763.9" stroke-width="2.0"/><line x1="519.4" y1="751.6" x2="529.4" y2="751.6"/><line x1="519.4" y1="763.9" x2="529.4" y2="763.9"/></g>
<g stroke="#000" stroke-width="1.8"><line x1="595.4" y1="732.9" x2="595.4" y2="757.4" stroke-width="2.0"/><line x1="590.4" y1="732.9" x2="600.4" y2="732.9"/><line x1="590.4" y1="757.4" x2="600.4" y2="757.4"/></g>
<g stroke="#000" stroke-width="1.8"><line x1="668.3" y1="693.6" x2="668.3" y2="724.8" stroke-width="2.0"/><line x1="663.3" y1="693.6" x2="673.3" y2="693.6"/><line x1="663.3" y1="724.8" x2="673.3" y2="724.8"/></g>
<g stroke="#000" stroke-width="1.8"><line x1="741" y1="650.2" x2="741" y2="684.2" stroke-width="2.0"/><line x1="736" y1="650.2" x2="746" y2="650.2"/><line x1="736" y1="684.2" x2="746" y2="684.2"/></g>
<line x1="91.1" y1="600" x2="91.1" y2="1113" stroke="#000" stroke-width="3"/>
<line x1="89.6" y1="1111.5" x2="813.1" y2="1111.5" stroke="#000" stroke-width="3"/>
<line x1="91.1" y1="1111.5" x2="101.9" y2="1111.5" stroke="#000" stroke-width="3"/>
<line x1="91.1" y1="1065.14" x2="97.2" y2="1065.14" stroke="#000" stroke-width="3"/>
<line x1="91.1" y1="1018.78" x2="101.9" y2="1018.78" stroke="#000" stroke-width="3"/>
<line x1="91.1" y1="972.42" x2="97.2" y2="972.42" stroke="#000" stroke-width="3"/>
<line x1="91.1" y1="926.06" x2="101.9" y2="926.06" stroke="#000" stroke-width="3"/>
<line x1="91.1" y1="879.7" x2="97.2" y2="879.7" stroke="#000" stroke-width="3"/>
<line x1="91.1" y1="833.34" x2="101.9" y2="833.34" stroke="#000" stroke-width="3"/>
<line x1="91.1" y1="786.98" x2="97.2" y2="786.98" stroke="#000" stroke-width="3"/>
<line x1="91.1" y1="740.62" x2="101.9" y2="740.62" stroke="#000" stroke-width="3"/>
<line x1="91.1" y1="694.26" x2="97.2" y2="694.26" stroke="#000" stroke-width="3"/>
<line x1="91.1" y1="647.9" x2="101.9" y2="647.9" stroke="#000" stroke-width="3"/>
<line x1="91.1" y1="601.54" x2="97.2" y2="601.54" stroke="#000" stroke-width="3"/>
<line x1="181.4" y1="1111.5" x2="181.4" y2="1107" stroke="#000" stroke-width="3"/>
<line x1="360.5" y1="1111.5" x2="360.5" y2="1107" stroke="#000" stroke-width="3"/>
<line x1="450.4" y1="1111.5" x2="450.4" y2="1101.5" stroke="#000" stroke-width="3"/>
<line x1="542.3" y1="1111.5" x2="542.3" y2="1107" stroke="#000" stroke-width="3"/>
<line x1="721.5" y1="1111.5" x2="721.5" y2="1107" stroke="#000" stroke-width="3"/>
<line x1="811.6" y1="1111.5" x2="811.6" y2="1101.5" stroke="#000" stroke-width="3"/>
<rect x="949.3" y="956.5" width="73" height="160" fill="#fff"/>
<rect x="949.3" y="956.5" width="73" height="160" fill="none" stroke="#000" stroke-width="2"/>
<rect x="1022.3" y="952.1" width="72" height="164.4" fill="#fff"/>
<clipPath id="c7"><rect x="1022.3" y="952.1" width="72" height="164.4"/></clipPath>
<g clip-path="url(#c7)" stroke="#000" stroke-width="1.5">
<line x1="873.4" y1="1118.5" x2="1041.8" y2="950.1"/>
<line x1="892" y1="1118.5" x2="1060.4" y2="950.1"/>
<line x1="910.6" y1="1118.5" x2="1079" y2="950.1"/>
<line x1="929.2" y1="1118.5" x2="1097.6" y2="950.1"/>
<line x1="947.8" y1="1118.5" x2="1116.2" y2="950.1"/>
<line x1="966.4" y1="1118.5" x2="1134.8" y2="950.1"/>
<line x1="985" y1="1118.5" x2="1153.4" y2="950.1"/>
<line x1="1003.6" y1="1118.5" x2="1172" y2="950.1"/>
<line x1="1022.2" y1="1118.5" x2="1190.6" y2="950.1"/>
<line x1="1040.8" y1="1118.5" x2="1209.2" y2="950.1"/>
<line x1="1059.4" y1="1118.5" x2="1227.8" y2="950.1"/>
<line x1="1078" y1="1118.5" x2="1246.4" y2="950.1"/>
</g>
<rect x="1022.3" y="952.1" width="72" height="164.4" fill="none" stroke="#000" stroke-width="2"/>
<rect x="1094.3" y="935.1" width="73" height="181.4" fill="#fff"/>
<g stroke="#000" stroke-width="1.7">
<line x1="1108.3" y1="935.1" x2="1108.3" y2="1116.5"/>
<line x1="1121.7" y1="935.1" x2="1121.7" y2="1116.5"/>
<line x1="1134.7" y1="935.1" x2="1134.7" y2="1116.5"/>
<line x1="1148.8" y1="935.1" x2="1148.8" y2="1116.5"/>
<line x1="1161.9" y1="935.1" x2="1161.9" y2="1116.5"/>
</g>
<rect x="1094.3" y="935.1" width="73" height="181.4" fill="none" stroke="#000" stroke-width="2"/>
<rect x="1167.3" y="931.5" width="71.5" height="185" fill="#fff"/>
<g stroke="#000" stroke-width="1.7">
<line x1="1181.3" y1="931.5" x2="1181.3" y2="1116.5"/>
<line x1="1195.2" y1="931.5" x2="1195.2" y2="1116.5"/>
<line x1="1209.1" y1="931.5" x2="1209.1" y2="1116.5"/>
<line x1="1222.6" y1="931.5" x2="1222.6" y2="1116.5"/>
<line x1="1236.2" y1="931.5" x2="1236.2" y2="1116.5"/>
<line x1="1167.3" y1="945.3" x2="1238.8" y2="945.3"/>
<line x1="1167.3" y1="958.95" x2="1238.8" y2="958.95"/>
<line x1="1167.3" y1="972.6" x2="1238.8" y2="972.6"/>
<line x1="1167.3" y1="986.25" x2="1238.8" y2="986.25"/>
<line x1="1167.3" y1="999.9" x2="1238.8" y2="999.9"/>
<line x1="1167.3" y1="1013.55" x2="1238.8" y2="1013.55"/>
<line x1="1167.3" y1="1027.2" x2="1238.8" y2="1027.2"/>
<line x1="1167.3" y1="1040.85" x2="1238.8" y2="1040.85"/>
<line x1="1167.3" y1="1054.5" x2="1238.8" y2="1054.5"/>
<line x1="1167.3" y1="1068.15" x2="1238.8" y2="1068.15"/>
<line x1="1167.3" y1="1081.8" x2="1238.8" y2="1081.8"/>
<line x1="1167.3" y1="1095.45" x2="1238.8" y2="1095.45"/>
<line x1="1167.3" y1="1109.1" x2="1238.8" y2="1109.1"/>
</g>
<rect x="1167.3" y="931.5" width="71.5" height="185" fill="none" stroke="#000" stroke-width="2"/>
<rect x="1310.6" y="749.9" width="72.9" height="366.6" fill="#fff"/>
<rect x="1310.6" y="749.9" width="72.9" height="366.6" fill="none" stroke="#000" stroke-width="2"/>
<rect x="1383.5" y="751.2" width="71.8" height="365.3" fill="#fff"/>
<clipPath id="c8"><rect x="1383.5" y="751.2" width="71.8" height="365.3"/></clipPath>
<g clip-path="url(#c8)" stroke="#000" stroke-width="1.5">
<line x1="1033.7" y1="1118.5" x2="1403" y2="749.2"/>
<line x1="1052.3" y1="1118.5" x2="1421.6" y2="749.2"/>
<line x1="1070.9" y1="1118.5" x2="1440.2" y2="749.2"/>
<line x1="1089.5" y1="1118.5" x2="1458.8" y2="749.2"/>
<line x1="1108.1" y1="1118.5" x2="1477.4" y2="749.2"/>
<line x1="1126.7" y1="1118.5" x2="1496" y2="749.2"/>
<line x1="1145.3" y1="1118.5" x2="1514.6" y2="749.2"/>
<line x1="1163.9" y1="1118.5" x2="1533.2" y2="749.2"/>
<line x1="1182.5" y1="1118.5" x2="1551.8" y2="749.2"/>
<line x1="1201.1" y1="1118.5" x2="1570.4" y2="749.2"/>
<line x1="1219.7" y1="1118.5" x2="1589" y2="749.2"/>
<line x1="1238.3" y1="1118.5" x2="1607.6" y2="749.2"/>
<line x1="1256.9" y1="1118.5" x2="1626.2" y2="749.2"/>
<line x1="1275.5" y1="1118.5" x2="1644.8" y2="749.2"/>
<line x1="1294.1" y1="1118.5" x2="1663.4" y2="749.2"/>
<line x1="1312.7" y1="1118.5" x2="1682" y2="749.2"/>
<line x1="1331.3" y1="1118.5" x2="1700.6" y2="749.2"/>
<line x1="1349.9" y1="1118.5" x2="1719.2" y2="749.2"/>
<line x1="1368.5" y1="1118.5" x2="1737.8" y2="749.2"/>
<line x1="1387.1" y1="1118.5" x2="1756.4" y2="749.2"/>
<line x1="1405.7" y1="1118.5" x2="1775" y2="749.2"/>
<line x1="1424.3" y1="1118.5" x2="1793.6" y2="749.2"/>
<line x1="1442.9" y1="1118.5" x2="1812.2" y2="749.2"/>
</g>
<rect x="1383.5" y="751.2" width="71.8" height="365.3" fill="none" stroke="#000" stroke-width="2"/>
<rect x="1455.3" y="716.8" width="72.8" height="399.7" fill="#fff"/>
<g stroke="#000" stroke-width="1.7">
<line x1="1469.3" y1="716.8" x2="1469.3" y2="1116.5"/>
<line x1="1482.7" y1="716.8" x2="1482.7" y2="1116.5"/>
<line x1="1495.7" y1="716.8" x2="1495.7" y2="1116.5"/>
<line x1="1509.8" y1="716.8" x2="1509.8" y2="1116.5"/>
<line x1="1522.9" y1="716.8" x2="1522.9" y2="1116.5"/>
</g>
<rect x="1455.3" y="716.8" width="72.8" height="399.7" fill="none" stroke="#000" stroke-width="2"/>
<rect x="1528.1" y="679.5" width="71.9" height="437" fill="#fff"/>
<g stroke="#000" stroke-width="1.7">
<line x1="1542.1" y1="679.5" x2="1542.1" y2="1116.5"/>
<line x1="1556" y1="679.5" x2="1556" y2="1116.5"/>
<line x1="1569.9" y1="679.5" x2="1569.9" y2="1116.5"/>
<line x1="1583.4" y1="679.5" x2="1583.4" y2="1116.5"/>
<line x1="1597" y1="679.5" x2="1597" y2="1116.5"/>
<line x1="1528.1" y1="693.3" x2="1600" y2="693.3"/>
<line x1="1528.1" y1="706.95" x2="1600" y2="706.95"/>
<line x1="1528.1" y1="720.6" x2="1600" y2="720.6"/>
<line x1="1528.1" y1="734.25" x2="1600" y2="734.25"/>
<line x1="1528.1" y1="747.9" x2="1600" y2="747.9"/>
<line x1="1528.1" y1="761.55" x2="1600" y2="761.55"/>
<line x1="1528.1" y1="775.2" x2="1600" y2="775.2"/>
<line x1="1528.1" y1="788.85" x2="1600" y2="788.85"/>
<line x1="1528.1" y1="802.5" x2="1600" y2="802.5"/>
<line x1="1528.1" y1="816.15" x2="1600" y2="816.15"/>
<line x1="1528.1" y1="829.8" x2="1600" y2="829.8"/>
<line x1="1528.1" y1="843.45" x2="1600" y2="843.45"/>
<line x1="1528.1" y1="857.1" x2="1600" y2="857.1"/>
<line x1="1528.1" y1="870.75" x2="1600" y2="870.75"/>
<line x1="1528.1" y1="884.4" x2="1600" y2="884.4"/>
<line x1="1528.1" y1="898.05" x2="1600" y2="898.05"/>
<line x1="1528.1" y1="911.7" x2="1600" y2="911.7"/>
<line x1="1528.1" y1="925.35" x2="1600" y2="925.35"/>
<line x1="1528.1" y1="939" x2="1600" y2="939"/>
<line x1="1528.1" y1="952.65" x2="1600" y2="952.65"/>
<line x1="1528.1" y1="966.3" x2="1600" y2="966.3"/>
<line x1="1528.1" y1="979.95" x2="1600" y2="979.95"/>
<line x1="1528.1" y1="993.6" x2="1600" y2="993.6"/>
<line x1="1528.1" y1="1007.25" x2="1600" y2="1007.25"/>
<line x1="1528.1" y1="1020.9" x2="1600" y2="1020.9"/>
<line x1="1528.1" y1="1034.55" x2="1600" y2="1034.55"/>
<line x1="1528.1" y1="1048.2" x2="1600" y2="1048.2"/>
<line x1="1528.1" y1="1061.85" x2="1600" y2="1061.85"/>
<line x1="1528.1" y1="1075.5" x2="1600" y2="1075.5"/>
<line x1="1528.1" y1="1089.15" x2="1600" y2="1089.15"/>
<line x1="1528.1" y1="1102.8" x2="1600" y2="1102.8"/>
</g>
<rect x="1528.1" y="679.5" width="71.9" height="437" fill="none" stroke="#000" stroke-width="2"/>
<g stroke="#000" stroke-width="1.8"><line x1="985.3" y1="942.9" x2="985.3" y2="969.1" stroke-width="2.0"/><line x1="980.3" y1="942.9" x2="990.3" y2="942.9"/><line x1="980.3" y1="969.1" x2="990.3" y2="969.1"/></g>
<g stroke="#000" stroke-width="1.8"><line x1="1057.6" y1="944.8" x2="1057.6" y2="960.2" stroke-width="2.0"/><line x1="1052.6" y1="944.8" x2="1062.6" y2="944.8"/><line x1="1052.6" y1="960.2" x2="1062.6" y2="960.2"/></g>
<g stroke="#000" stroke-width="1.8"><line x1="1130.6" y1="925.7" x2="1130.6" y2="944.6" stroke-width="2.0"/><line x1="1125.6" y1="925.7" x2="1135.6" y2="925.7"/><line x1="1125.6" y1="944.6" x2="1135.6" y2="944.6"/></g>
<g stroke="#000" stroke-width="1.8"><line x1="1202.1" y1="925.7" x2="1202.1" y2="938.1" stroke-width="2.0"/><line x1="1197.1" y1="925.7" x2="1207.1" y2="925.7"/><line x1="1197.1" y1="938.1" x2="1207.1" y2="938.1"/></g>
<g stroke="#000" stroke-width="1.8"><line x1="1346.7" y1="731.4" x2="1346.7" y2="770.1" stroke-width="2.0"/><line x1="1341.7" y1="731.4" x2="1351.7" y2="731.4"/><line x1="1341.7" y1="770.1" x2="1351.7" y2="770.1"/></g>
<g stroke="#000" stroke-width="1.8"><line x1="1418.9" y1="738.9" x2="1418.9" y2="762.2" stroke-width="2.0"/><line x1="1413.9" y1="738.9" x2="1423.9" y2="738.9"/><line x1="1413.9" y1="762.2" x2="1423.9" y2="762.2"/></g>
<g stroke="#000" stroke-width="1.8"><line x1="1491.4" y1="700.2" x2="1491.4" y2="734.2" stroke-width="2.0"/><line x1="1486.4" y1="700.2" x2="1496.4" y2="700.2"/><line x1="1486.4" y1="734.2" x2="1496.4" y2="734.2"/></g>
<g stroke="#000" stroke-width="1.8"><line x1="1563.4" y1="671.9" x2="1563.4" y2="686.1" stroke-width="2.0"/><line x1="1558.4" y1="671.9" x2="1568.4" y2="671.9"/><line x1="1558.4" y1="686.1" x2="1568.4" y2="686.1"/></g>
<line x1="913.1" y1="606" x2="913.1" y2="1118" stroke="#000" stroke-width="3"/>
<line x1="911.6" y1="1116.5" x2="1636.3" y2="1116.5" stroke="#000" stroke-width="3"/>
<line x1="913.1" y1="1116.5" x2="925.3" y2="1116.5" stroke="#000" stroke-width="3"/>
<line x1="913.1" y1="1065.6" x2="920.7" y2="1065.6" stroke="#000" stroke-width="3"/>
<line x1="913.1" y1="1014.7" x2="925.3" y2="1014.7" stroke="#000" stroke-width="3"/>
<line x1="913.1" y1="963.8" x2="920.7" y2="963.8" stroke="#000" stroke-width="3"/>
<line x1="913.1" y1="912.9" x2="925.3" y2="912.9" stroke="#000" stroke-width="3"/>
<line x1="913.1" y1="862" x2="920.7" y2="862" stroke="#000" stroke-width="3"/>
<line x1="913.1" y1="811.1" x2="925.3" y2="811.1" stroke="#000" stroke-width="3"/>
<line x1="913.1" y1="760.2" x2="920.7" y2="760.2" stroke="#000" stroke-width="3"/>
<line x1="913.1" y1="709.3" x2="925.3" y2="709.3" stroke="#000" stroke-width="3"/>
<line x1="913.1" y1="658.4" x2="920.7" y2="658.4" stroke="#000" stroke-width="3"/>
<line x1="913.1" y1="607.5" x2="925.3" y2="607.5" stroke="#000" stroke-width="3"/>
<line x1="1003.2" y1="1116.5" x2="1003.2" y2="1112" stroke="#000" stroke-width="3"/>
<line x1="1183.5" y1="1116.5" x2="1183.5" y2="1112" stroke="#000" stroke-width="3"/>
<line x1="1274" y1="1116.5" x2="1274" y2="1106.5" stroke="#000" stroke-width="3"/>
<line x1="1364.2" y1="1116.5" x2="1364.2" y2="1112" stroke="#000" stroke-width="3"/>
<line x1="1544.9" y1="1116.5" x2="1544.9" y2="1112" stroke="#000" stroke-width="3"/>
<line x1="1634.9" y1="1116.5" x2="1634.9" y2="1106.5" stroke="#000" stroke-width="3"/>
<rect x="195.8" y="12.05" width="59.5" height="28.2" fill="#fff"/>
<rect x="195.8" y="12.05" width="59.5" height="28.2" fill="none" stroke="#000" stroke-width="2"/>
<rect x="416.7" y="12.05" width="59.5" height="28.2" fill="#fff"/>
<clipPath id="c9"><rect x="416.7" y="12.05" width="59.5" height="28.2"/></clipPath>
<g clip-path="url(#c9)" stroke="#000" stroke-width="1.5">
<line x1="404" y1="42.25" x2="436.2" y2="10.05"/>
<line x1="422.7" y1="42.25" x2="454.9" y2="10.05"/>
<line x1="441.4" y1="42.25" x2="473.6" y2="10.05"/>
<line x1="460.1" y1="42.25" x2="492.3" y2="10.05"/>
</g>
<rect x="416.7" y="12.05" width="59.5" height="28.2" fill="none" stroke="#000" stroke-width="2"/>
<rect x="195.8" y="46.4" width="59.5" height="27.9" fill="#fff"/>
<g stroke="#000" stroke-width="1.7">
<line x1="208.1" y1="46.4" x2="208.1" y2="74.3"/>
<line x1="222.2" y1="46.4" x2="222.2" y2="74.3"/>
<line x1="236.3" y1="46.4" x2="236.3" y2="74.3"/>
<line x1="250.4" y1="46.4" x2="250.4" y2="74.3"/>
</g>
<rect x="195.8" y="46.4" width="59.5" height="27.9" fill="none" stroke="#000" stroke-width="2"/>
<rect x="419.8" y="46.1" width="59.8" height="28.5" fill="#fff"/>
<g stroke="#000" stroke-width="1.7">
<line x1="429.3" y1="46.1" x2="429.3" y2="74.6"/>
<line x1="438.7" y1="46.1" x2="438.7" y2="74.6"/>
<line x1="448.1" y1="46.1" x2="448.1" y2="74.6"/>
<line x1="457.5" y1="46.1" x2="457.5" y2="74.6"/>
<line x1="466.9" y1="46.1" x2="466.9" y2="74.6"/>
<line x1="476.3" y1="46.1" x2="476.3" y2="74.6"/>
<line x1="419.8" y1="57.1" x2="479.6" y2="57.1"/>
<line x1="419.8" y1="66.3" x2="479.6" y2="66.3"/>
</g>
<rect x="419.8" y="46.1" width="59.8" height="28.5" fill="none" stroke="#000" stroke-width="2"/>
<text x="115.8" y="29.55" font-size="26" textLength="37.8" lengthAdjust="spacingAndGlyphs">(A)</text>
<text x="946.6" y="35.8" font-size="26" textLength="36.8" lengthAdjust="spacingAndGlyphs">(B)</text>
<text x="120.2" y="625.2" font-size="26" textLength="36.8" lengthAdjust="spacingAndGlyphs">(C)</text>
<text x="951.8" y="635.2" font-size="26" textLength="37.8" lengthAdjust="spacingAndGlyphs">(D)</text>
<text x="251.4" y="559.2" font-size="26" textLength="41.2" lengthAdjust="spacingAndGlyphs">40d</text>
<text x="624.6" y="557.95" font-size="26" textLength="41.8" lengthAdjust="spacingAndGlyphs">60d</text>
<text x="1073.4" y="555.65" font-size="26" textLength="41.2" lengthAdjust="spacingAndGlyphs">40d</text>
<text x="1440" y="556.4" font-size="26" textLength="39.8" lengthAdjust="spacingAndGlyphs">60d</text>
<text x="254.4" y="1156" font-size="26" textLength="40" lengthAdjust="spacingAndGlyphs">40d</text>
<text x="617.2" y="1153.5" font-size="26" textLength="41" lengthAdjust="spacingAndGlyphs">60d</text>
<text x="1072.2" y="1166.75" font-size="26" textLength="38.6" lengthAdjust="spacingAndGlyphs">40d</text>
<text x="1434.2" y="1172.6" font-size="26" textLength="38.6" lengthAdjust="spacingAndGlyphs">60d</text>
<text transform="translate(31.5,395) rotate(-90)" font-size="26" textLength="218" lengthAdjust="spacingAndGlyphs">Root dry weight (g)</text>
<text transform="translate(842.5,357) rotate(-90)" font-size="26" textLength="219.6" lengthAdjust="spacingAndGlyphs">Stem dry weight (g)</text>
<text transform="translate(19.15,953.6) rotate(-90)" font-size="26" textLength="212" lengthAdjust="spacingAndGlyphs">Leaf dry weight (g)</text>
<text transform="translate(837.15,973.6) rotate(-90)" font-size="26" textLength="219.2" lengthAdjust="spacingAndGlyphs">Total dry weight (g)</text>
<text x="286" y="1211.3" font-size="26" textLength="260.2" lengthAdjust="spacingAndGlyphs">Days after treatment (d)</text>
<text x="1066.4" y="1216.7" font-size="26" textLength="258" lengthAdjust="spacingAndGlyphs">Days after treatment (d)</text>
<text x="262.2" y="35.15" font-size="26" textLength="135.6" lengthAdjust="spacingAndGlyphs">HVPD-LCO</text>
<text x="398.8" y="35.2" font-size="20">2</text>
<text x="482.4" y="34.6" font-size="26" textLength="139.6" lengthAdjust="spacingAndGlyphs">HVPD-HCO</text>
<text x="623.2" y="35" font-size="20">2</text>
<text x="261.4" y="68.95" font-size="26" textLength="130.8" lengthAdjust="spacingAndGlyphs">LVPD-LCO</text>
<text x="395.95" y="69" font-size="20">2</text>
<text x="488" y="69.1" font-size="26" textLength="134.4" lengthAdjust="spacingAndGlyphs">LVPD-HCO</text>
<text x="623.2" y="68.8" font-size="20">2</text>
<text x="158" y="293" font-size="26">a</text>
<text x="230.8" y="288.6" font-size="26">a</text>
<text x="301.1" y="317.8" font-size="26">a</text>
<text x="372.5" y="306.2" font-size="26">a</text>
<text x="520.2" y="214.4" font-size="26">a</text>
<text x="591.8" y="166.6" font-size="26">a</text>
<text x="665.4" y="80.8" font-size="26">a</text>
<text x="735.5" y="112.2" font-size="26">a</text>
<text x="984.1" y="358" font-size="26">a</text>
<text x="1055.8" y="361.2" font-size="26">a</text>
<text x="1127.7" y="333.8" font-size="26">a</text>
<text x="1202.1" y="335.2" font-size="26">a</text>
<text x="1345.2" y="84.6" font-size="26">a</text>
<text x="1416.8" y="129.6" font-size="26">a</text>
<text x="1487.1" y="100.6" font-size="26">a</text>
<text x="1562" y="53.8" font-size="26">a</text>
<text x="155.8" y="923.6" font-size="26">a</text>
<text x="227.8" y="922.4" font-size="26">a</text>
<text x="299.8" y="895" font-size="26">a</text>
<text x="371.4" y="900" font-size="26">a</text>
<text x="514.15" y="738" font-size="26">b</text>
<text x="591.35" y="724.4" font-size="26">b</text>
<text x="656.5" y="680.2" font-size="26">ab</text>
<text x="735.4" y="644" font-size="26">a</text>
<text x="978.1" y="938" font-size="26">a</text>
<text x="1050.8" y="937.8" font-size="26">a</text>
<text x="1122.7" y="918.6" font-size="26">a</text>
<text x="1193" y="916.4" font-size="26">a</text>
<text x="1339.95" y="717.4" font-size="26">b</text>
<text x="1412.75" y="732.2" font-size="26">b</text>
<text x="1484.8" y="695.8" font-size="26">ab</text>
<text x="1557.1" y="663.8" font-size="26">a</text>
<text x="53.6" y="525.95" font-size="23.2" textLength="28" lengthAdjust="spacingAndGlyphs">0.0</text>
<text x="53.6" y="469.1" font-size="23.2" textLength="27" lengthAdjust="spacingAndGlyphs">0.5</text>
<text x="53.4" y="412.7" font-size="23.2" textLength="28.6" lengthAdjust="spacingAndGlyphs">1.0</text>
<text x="53.4" y="357.3" font-size="23.2" textLength="28" lengthAdjust="spacingAndGlyphs">1.5</text>
<text x="52.8" y="299.1" font-size="23.2" textLength="29.2" lengthAdjust="spacingAndGlyphs">2.0</text>
<text x="53" y="243.1" font-size="23.2" textLength="28.8" lengthAdjust="spacingAndGlyphs">2.5</text>
<text x="53" y="185.65" font-size="23.2" textLength="27.8" lengthAdjust="spacingAndGlyphs">3.0</text>
<text x="53" y="129.8" font-size="23.2" textLength="28.8" lengthAdjust="spacingAndGlyphs">3.5</text>
<text x="53.4" y="73.15" font-size="23.2" textLength="28.6" lengthAdjust="spacingAndGlyphs">4.0</text>
<text x="53" y="15.25" font-size="23.2" textLength="27.6" lengthAdjust="spacingAndGlyphs">4.5</text>
<text x="895.55" y="526.4" font-size="23.2">0</text>
<text x="895.55" y="469.6" font-size="23.2">2</text>
<text x="895.1" y="412.4" font-size="23.2">4</text>
<text x="895" y="357.4" font-size="23.2">6</text>
<text x="895.75" y="299.6" font-size="23.2">8</text>
<text x="884.4" y="242.6" font-size="23.2" textLength="22.6" lengthAdjust="spacingAndGlyphs">10</text>
<text x="884.4" y="185.7" font-size="23.2" textLength="22.6" lengthAdjust="spacingAndGlyphs">12</text>
<text x="884.4" y="129.85" font-size="23.2" textLength="21.6" lengthAdjust="spacingAndGlyphs">14</text>
<text x="885.4" y="73.7" font-size="23.2" textLength="21" lengthAdjust="spacingAndGlyphs">16</text>
<text x="884.6" y="16" font-size="23.2" textLength="21.8" lengthAdjust="spacingAndGlyphs">18</text>
<text x="68.95" y="1118.2" font-size="23.2">0</text>
<text x="68.4" y="1026.8" font-size="23.2">5</text>
<text x="58.2" y="932.75" font-size="23.2" textLength="21" lengthAdjust="spacingAndGlyphs">10</text>
<text x="58.2" y="840.9" font-size="23.2" textLength="21" lengthAdjust="spacingAndGlyphs">15</text>
<text x="56.8" y="748.15" font-size="23.2" textLength="22.4" lengthAdjust="spacingAndGlyphs">20</text>
<text x="57.6" y="655.8" font-size="23.2" textLength="20.2" lengthAdjust="spacingAndGlyphs">25</text>
<text x="891.95" y="1124.6" font-size="23.2">0</text>
<text x="880.4" y="1023.15" font-size="23.2" textLength="21.2" lengthAdjust="spacingAndGlyphs">10</text>
<text x="879" y="919.95" font-size="23.2" textLength="23.8" lengthAdjust="spacingAndGlyphs">20</text>
<text x="879" y="819.05" font-size="23.2" textLength="23.8" lengthAdjust="spacingAndGlyphs">30</text>
<text x="879.8" y="716.3" font-size="23.2" textLength="22.4" lengthAdjust="spacingAndGlyphs">40</text>
<text x="880" y="614.9" font-size="23.2" textLength="22.2" lengthAdjust="spacingAndGlyphs">50</text>
</svg>
</body></html>
